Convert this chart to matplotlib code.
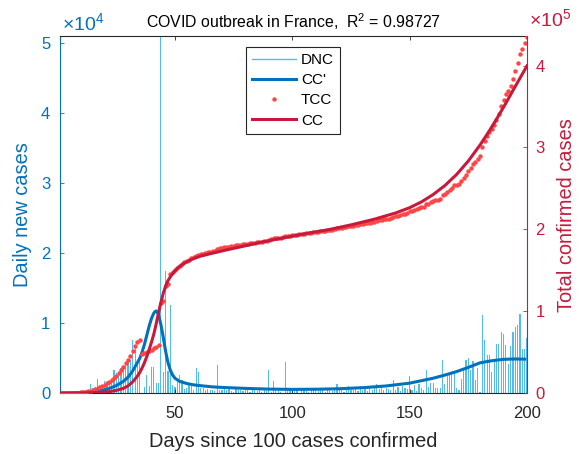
import matplotlib
matplotlib.use("Agg")
import matplotlib.pyplot as plt
from matplotlib.lines import Line2D
from matplotlib.ticker import FuncFormatter

plt.rcParams['font.family'] = ['Liberation Sans', 'DejaVu Sans']
plt.rcParams['mathtext.fontset'] = 'custom'
plt.rcParams['mathtext.rm'] = 'Liberation Sans'
plt.rcParams['mathtext.it'] = 'Liberation Sans:italic'

# daily new cases (DNC), days 1..200
days = list(range(1, 201))
dnc = [30, 40, 60, 20, 80, 130, 190, 100, 240, 180,
       290, 370, 500, 1300, 800, 900, 2100, 1200, 1100, 1800,
       1600, 1800, 1600, 3300, 2900, 3100, 3600, 4000, 4200, 4500,
       4800, 7600, 6900, 4800, 5000, -17000, 900, 2600, 1100, 3800,
       3700, 1500, 1400, 52000, 3100, 17500, 3200, 12600, 1200, 900,
       1600, 2600, 1900, 600, 800, 1400, 1100, 500, 3600, 3100,
       700, 700, 500, 600, 400, 500, 300, 4100, 500, 400,
       600, 500, 700, 300, 200, 600, 400, 500, 300, 700,
       500, 200, 400, 600, 300, 400, 200, 500, 300, 3300,
       200, 1800, 300, 400, 200, 100, 4400, 300, 500, 400,
       300, 500, 100, 400, 800, 300, 200, 500, 400, 600,
       300, 700, 500, 200, 400, 600, 300, 500, 1300, 400,
       600, 200, 500, 1000, 500, 400, 700, 300, 1100, 500,
       600, 300, 700, 500, 800, 1300, 600, 900, 500, 700,
       600, 400, 1900, 500, 900, 300, 1100, 700, 600, 2500,
       500, 1200, 300, 1300, 700, 400, 3300, 900, 1500, 1400,
       800, 700, 800, 4800, 1300, 2400, 2600, 2900, 2900, 800,
       500, 2000, 3300, 4800, 5000, 3300, 4600, 1900, 3600, 200,
       11200, 7600, 5500, 5400, 3100, 4900, 7000, 7000, 8800, 8500,
       6900, 4200, 6700, 8700, 9500, 9700, 11300, 6300, 6300, 7900]

# total confirmed cases (TCC), thousands
tcc_k = [0.10, 0.13, 0.19, 0.21, 0.29, 0.42, 0.61, 0.71, 0.95, 1.13,
         1.41, 1.78, 2.28, 3.0, 3.9, 4.7, 5.9, 7.3, 8.9, 10.6,
         12.2, 14.0, 16.0, 18.3, 21.5, 25.0, 28.6, 32.4, 36.5, 40.6,
         46.0, 52.0, 58.0, 62.0, 65.0, 48.0, 49.2, 50.7, 51.8, 52.8,
         54.8, 56.8, 58.9, 110.0, 113.0, 130.5, 133.7, 145.5, 147.5, 150.0,
         153.0, 155.5, 158.0, 160.0, 161.5, 163.0, 164.5, 165.8, 167.2, 168.8,
         169.8, 170.5, 171.2, 172.0, 172.7, 173.3, 174.0, 176.5, 177.0, 177.5,
         178.0, 178.5, 179.0, 179.5, 180.0, 180.5, 181.0, 181.4, 181.8, 182.2,
         182.6, 183.0, 183.4, 183.8, 184.2, 184.6, 185.0, 185.4, 185.8, 187.5,
         187.9, 189.0, 189.3, 189.6, 189.9, 190.2, 191.5, 191.9, 192.3, 192.7,
         193.1, 193.5, 193.9, 194.3, 194.8, 195.2, 195.6, 196.0, 196.4, 196.8,
         197.2, 197.7, 198.1, 198.5, 198.9, 199.3, 199.8, 200.3, 201.4, 201.8,
         202.2, 202.6, 203.0, 203.8, 204.2, 204.6, 205.0, 205.4, 206.4, 206.8,
         207.3, 207.8, 208.3, 208.8, 209.3, 210.5, 211.0, 211.8, 212.3, 212.8,
         213.3, 213.8, 215.5, 216.0, 216.8, 217.5, 218.5, 219.2, 219.8, 222.2,
         222.8, 224.0, 224.8, 226.1, 226.8, 227.5, 230.7, 231.6, 233.1, 234.5,
         235.3, 236.0, 236.8, 241.6, 242.9, 245.3, 247.9, 250.8, 253.7, 254.5,
         256.0, 258.5, 262.5, 266.5, 271.0, 275.0, 280.0, 282.0, 286.0, 290.0,
         301.0, 308.0, 313.5, 319.0, 322.0, 327.0, 334.0, 341.0, 350.0, 358.0,
         365.0, 369.0, 375.5, 384.0, 393.5, 403.0, 414.0, 420.5, 427.0, 435.0]

# fitted cumulative curve (CC), thousands
cc_days = [1, 10, 15, 20, 22, 25, 28, 30, 32, 34,
           35, 36, 37, 38, 39, 40, 41, 42, 43, 44,
           45, 46, 47, 48, 49, 50, 52, 55, 58, 61,
           66, 72, 80, 86, 95, 105, 116, 125, 135, 144,
           150, 155, 160, 165, 170, 175, 180, 184, 187, 191,
           194, 197, 200]
cc_k = [0.2, 0.4, 0.8, 1.5, 2.0, 3.5, 6.0, 9.0, 14.0, 21.0,
        25.5, 31.0, 37.5, 45.0, 53.5, 62.5, 72.5, 85.0, 98.5, 111.0,
        122.0, 131.0, 137.5, 142.0, 146.0, 149.5, 155.0, 160.5, 164.5, 167.5,
        171.0, 175.0, 180.0, 184.0, 189.0, 194.5, 200.0, 205.5, 212.5, 220.0,
        226.5, 233.5, 242.5, 253.5, 267.0, 283.5, 303.0, 320.5, 334.5, 354.0,
        369.5, 384.5, 399.5]

# derivative of the fit (CC')
ccp_days = [1, 5, 10, 15, 18, 20, 22, 25, 28, 30,
            32, 34, 35, 36, 37, 38, 39, 40, 41, 41.5, 42, 42.5,
            43, 44, 45, 46, 47, 48, 49, 50, 52, 55,
            58, 62, 66, 70, 80, 90, 100, 110, 120, 130,
            140, 150, 155, 160, 165, 170, 175, 180, 185, 190,
            195, 199]
ccp = [30, 60, 120, 220, 380, 500, 700, 1100, 1700, 2300,
       3200, 4400, 5000, 5900, 7000, 8300, 9600, 10700, 11450, 11680, 11750, 11560,
       11200, 9800, 8000, 6000, 4400, 3300, 2600, 2150, 1700, 1400,
       1200, 1050, 920, 840, 700, 600, 560, 580, 650, 800,
       1050, 1450, 1800, 2150, 2600, 3100, 3700, 4350, 4650, 4850,
       4900, 4880]

blue = '#0072BD'
light_blue = '#4DBEEE'
red = '#C8193C'
dot_red = '#FF4545'
dark = '#262626'

fig = plt.figure(figsize=(5.87, 4.54), dpi=100)
ax = fig.add_axes([60 / 587, 60.7 / 454, 467 / 587, 357.3 / 454])

ax.bar(days, dnc, width=0.5, color=light_blue, linewidth=0)
line_ccp, = ax.plot(ccp_days, ccp, color=blue, lw=2.2)

ax2 = ax.twinx()
line_tcc, = ax2.plot(days, [v * 1000 for v in tcc_k], 'o', ms=3.2, mew=0, color=dot_red)
line_cc, = ax2.plot(cc_days, [v * 1000 for v in cc_k], color=red, lw=2.2)

ax.set_xlim(1, 200)
ax.set_ylim(0, 51000)
ax2.set_ylim(0, 436000)
ax.set_xticks([50, 100, 150, 200])
ax.set_yticks(range(0, 50001, 10000))
ax2.set_yticks(range(0, 400001, 100000))
ax.yaxis.set_major_formatter(FuncFormatter(lambda v, p: f'{v / 1e4:g}'))
ax2.yaxis.set_major_formatter(FuncFormatter(lambda v, p: f'{v / 1e5:g}'))

ax.tick_params(axis='x', direction='in', top=True, length=3, width=0.6,
               colors=dark, labelsize=12, pad=9)
ax.tick_params(axis='y', direction='in', length=3, width=0.6,
               colors=blue, labelsize=12, pad=7)
ax2.tick_params(axis='y', direction='in', length=3, width=0.6,
                colors=red, labelsize=12, pad=6)

for s in ['top', 'bottom']:
    ax.spines[s].set_color(dark)
    ax.spines[s].set_linewidth(0.8)
ax.spines['left'].set_color(blue)
ax.spines['left'].set_linewidth(0.8)
ax.spines['right'].set_visible(False)
for s in ['top', 'bottom', 'left']:
    ax2.spines[s].set_visible(False)
ax2.spines['right'].set_color(red)
ax2.spines['right'].set_linewidth(0.8)

ax.set_xlabel('Days since 100 cases confirmed', fontsize=14.4, color=dark)
ax.xaxis.set_label_coords(0.5, -0.108)
ax.set_ylabel('Daily new cases', fontsize=14.4, color=blue)
ax.yaxis.set_label_coords(-0.06, 0.5)
ax2.set_ylabel('Total confirmed cases', fontsize=14.4, color=red)
ax2.yaxis.set_label_coords(1.064, 0.5)

fig.text(293.5 / 587, 1 - 28 / 454, 'COVID outbreak in France,  R$^{2}$ = 0.98727',
         ha='center', va='baseline', fontsize=11.4, color='black')
fig.text(62 / 587, 1 - 30 / 454, '\u00d710$^{4}$', ha='left', va='baseline',
         fontsize=14, color=blue)
fig.text(529 / 587, 1 - 26 / 454, '\u00d710$^{5}$', ha='left', va='baseline',
         fontsize=14, color=red)

dnc_handle = Line2D([], [], color=light_blue, lw=1)
leg = ax.legend([dnc_handle, line_ccp, line_tcc, line_cc], ['DNC', "CC'", 'TCC', 'CC'],
                loc='upper left', bbox_to_anchor=(0.398, 0.969), borderaxespad=0,
                fontsize=11, handlelength=2.9, handletextpad=0.3, labelspacing=0.4,
                borderpad=0.4, fancybox=False, framealpha=1, edgecolor=dark, numpoints=1)
leg.get_frame().set_linewidth(0.8)

fig.savefig('out.png', dpi=100)
